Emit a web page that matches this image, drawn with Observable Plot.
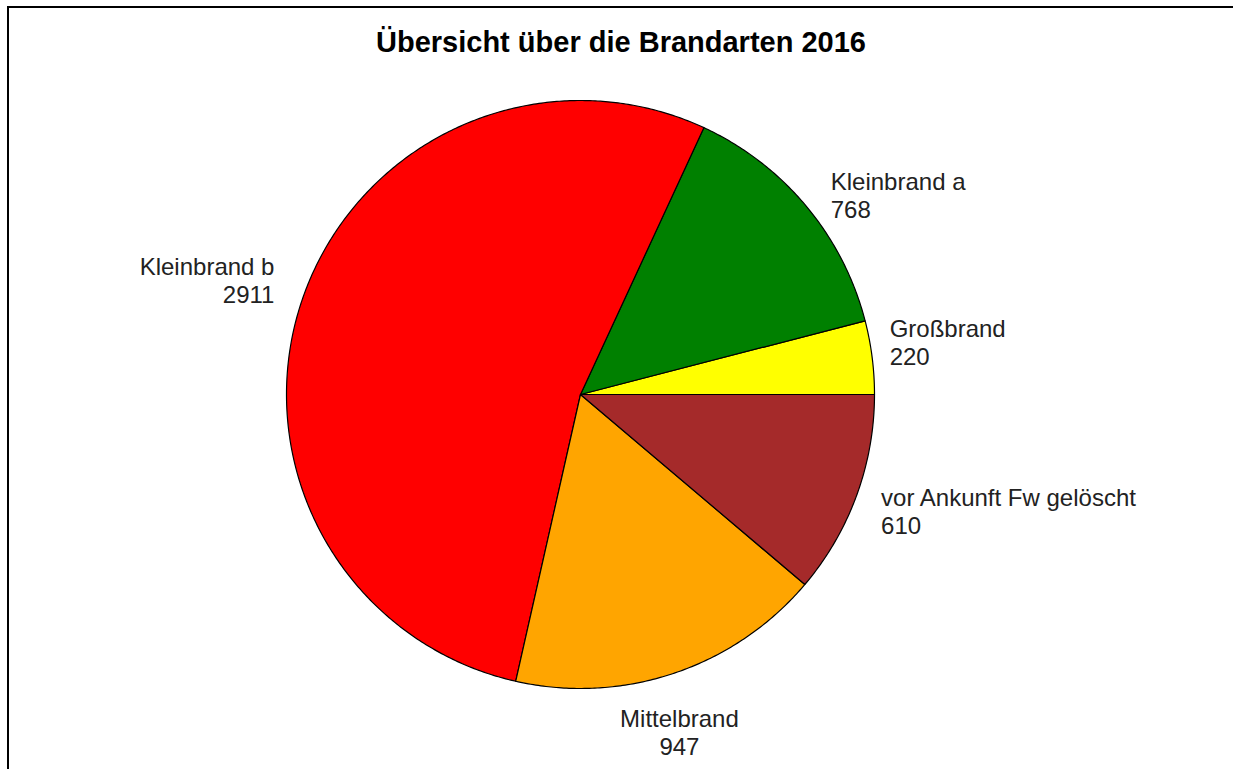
<!DOCTYPE html>
<html>
<head>
<meta charset="utf-8">
<script src="https://cdn.jsdelivr.net/npm/d3@7"></script>
<script src="https://cdn.jsdelivr.net/npm/@observablehq/plot@0.6"></script>
<style>
  html, body { margin: 0; padding: 0; background: #fff; }
  #wrap { position: relative; width: 1233px; height: 769px; overflow: hidden; }
  #frame { position: absolute; left: 7px; top: 6px; right: -10px; bottom: -10px;
           border-left: 2px solid #000; border-top: 2px solid #000; }
  #title { position: absolute; left: 9px; right: 0; top: 26px; text-align: center;
           font: bold 29px "Liberation Sans", Arial, sans-serif; color: #000; line-height: 32px; }
  #chart { position: absolute; left: 0; top: 70px; }
</style>
</head>
<body>
<div id="wrap">
  <div id="frame"></div>
  <div id="title">Übersicht über die Brandarten 2016</div>
  <div id="chart"></div>
</div>
<script>
// Data (order: counter-clockwise from 3 o'clock)
const categories = ["Großbrand", "Kleinbrand a", "Kleinbrand b", "Mittelbrand", "vor Ankunft Fw gelöscht"];
const counts = [220, 768, 2911, 947, 610];
const colors = ["#FFFF00", "#008000", "#FF0000", "#FFA500", "#A52A2A"];

const W = 1233, H = 699;
const cx = 580, cy = 324, R = 294;

const total = d3.sum(counts);
const cum = [0, ...d3.cumsum(counts)];
const slices = categories.map((name, i) => ({
  name, value: counts[i], color: colors[i],
  a0: cum[i] / total * 2 * Math.PI,
  a1: cum[i + 1] / total * 2 * Math.PI
}));

// Polygon outline of each slice in unit-circle coordinates
const outline = [];
for (const s of slices) {
  outline.push({name: s.name, color: s.color, x: 0, y: 0});
  const n = Math.max(2, Math.ceil((s.a1 - s.a0) / (Math.PI / 360)));
  for (let k = 0; k <= n; k++) {
    const a = s.a0 + (s.a1 - s.a0) * k / n;
    outline.push({name: s.name, color: s.color, x: Math.cos(a), y: Math.sin(a)});
  }
  outline.push({name: s.name, color: s.color, x: 0, y: 0});
}

// Label placement tweaks (pixel nudges, layout only)
const nudge = [[0, -13], [11, 0], [-11, -14], [0, 17], [8, 9]];

const labels = slices.map((s, i) => {
  const m = (s.a0 + s.a1) / 2;
  const c = Math.cos(m), sn = Math.sin(m);
  let anchor = "start", line = "middle";
  if (Math.abs(c) < 0.5) { anchor = "middle"; line = sn < 0 ? "top" : "bottom"; }
  else if (c < 0) { anchor = "end"; }
  return {text: s.name + "\n" + s.value, x: 1.06 * c, y: 1.06 * sn, anchor, line,
          dx: nudge[i][0], dy: nudge[i][1]};
});

const textOpts = {fontSize: 24, fill: "#222", lineHeight: 1.17, fontFamily: "'Liberation Sans', Arial, sans-serif"};
const textMarks = labels.map(l =>
  Plot.text([l], {x: "x", y: "y", text: "text", textAnchor: l.anchor, lineAnchor: l.line,
    dx: l.dx, dy: l.dy, ...textOpts})
);

const chart = Plot.plot({
  width: W, height: H,
  margin: 0,
  x: {domain: [-cx / R, (W - cx) / R], axis: null},
  y: {domain: [-(H - cy) / R, cy / R], axis: null},
  color: {type: "identity"},
  marks: [
    Plot.line(outline, {x: "x", y: "y", z: "name", fill: "color", stroke: "#000",
      strokeWidth: 1.2, strokeLinejoin: "round", curve: "linear"}),
    ...textMarks
  ]
});
document.getElementById("chart").appendChild(chart);
</script>
</body>
</html>
